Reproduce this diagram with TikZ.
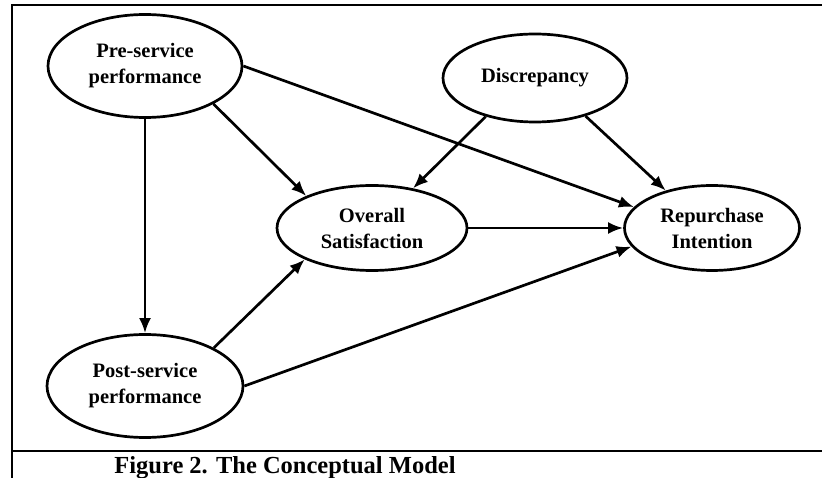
\documentclass[tikz,border=0pt]{standalone}
\usepackage{fontspec}
\setmainfont{Liberation Serif}
\usetikzlibrary{shapes.geometric,arrows.meta}

\tikzset{
  construct/.style={ellipse,draw,line width=2.7pt,inner sep=0pt,align=center,
    font=\bfseries\fontsize{20.5}{26}\selectfont},
  link/.style={line width=2.7pt,-{Latex[length=15pt,width=12pt]}},
}

\begin{document}
\begin{tikzpicture}[x=1pt,y=-1pt]
    \useasboundingbox (0,0) rectangle (822,478);
    \draw[line width=2.8pt] (822,5) -- (12,5) -- (12,478);
    \draw[line width=2.8pt] (12,451) -- (822,451);
    \node[anchor=base,font=\bfseries\fontsize{24.5}{28}\selectfont] (caption) at (285,473) {Figure 2. The Conceptual Model};
    \node[construct,minimum width=194pt,minimum height=103pt] (Pre) at (145,66) {Pre-service\\performance};
    \node[construct,minimum width=196pt,minimum height=103pt] (Post) at (145,386) {Post-service\\performance};
    \node[construct,minimum width=184pt,minimum height=88pt] (Disc) at (535,78) {Discrepancy};
    \node[construct,minimum width=190pt,minimum height=85pt] (Sat) at (372,228) {Overall\\Satisfaction};
    \node[construct,minimum width=175pt,minimum height=85pt] (RI) at (712,228) {Repurchase\\Intention};
    %\node[right=of RI] (RI note) {};
    \draw[link] (Pre) -- (Post);
    \draw[link] (Pre.-29) -- (Sat.154);
    \draw[link] (Pre.east) -- (RI.165);
    \draw[link] (Disc.218) -- (Sat.44);
    \draw[link] (Disc.-37) -- (RI.141);
    \draw[link] (Sat) -- (RI);
    \draw[link] (Post.29) -- (Sat.205);
    \draw[link] (Post.east) -- (RI.193);
\end{tikzpicture}
\end{document}
